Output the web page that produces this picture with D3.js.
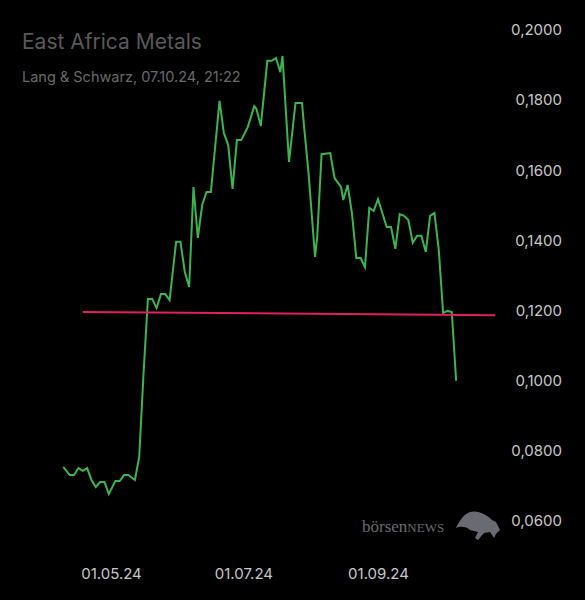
<!DOCTYPE html>
<html><head><meta charset="utf-8">
<script src="https://cdn.jsdelivr.net/npm/d3@7"></script>
<style>body{margin:0;background:#000}</style></head>
<body><svg id="chart" width="585" height="600"></svg>
<script>
// days offset from 01.05.24
const dayOffsets = [-22,-19,-17,-15,-13,-11,-9,-7,-5,-3,-1,2,4,6,8,11,13,15,17,19,21,23,25,27,30,32,34,36,38,40,42,44,46,50,52,54,56,58,60,63,66,67,69,72,74,76,78,79,82,85,88,89,91,94,95,97,101,103,106,107,109,111,113,115,117,119,121,123,125,127,129,131,133,135,137,139,141,143,145,147,149,151,153,155,157,159];
const prices = [0.0754,0.0731,0.0731,0.0751,0.0743,0.0751,0.0717,0.0697,0.0711,0.0711,0.0677,0.0714,0.0714,0.0731,0.0731,0.0717,0.0783,0.1022,0.1233,0.1233,0.1207,0.1247,0.1247,0.1230,0.1396,0.1396,0.1310,0.1267,0.1552,0.1407,0.1501,0.1538,0.1538,0.1798,0.1706,0.1672,0.1547,0.1686,0.1686,0.1723,0.1783,0.1775,0.1726,0.1912,0.1912,0.1920,0.1880,0.1926,0.1624,0.1792,0.1792,0.1721,0.1592,0.1353,0.1410,0.1646,0.1649,0.1578,0.1552,0.1515,0.1558,0.1478,0.1350,0.1350,0.1324,0.1493,0.1484,0.1518,0.1478,0.1438,0.1438,0.1376,0.1475,0.1470,0.1458,0.1393,0.1413,0.1413,0.1367,0.1470,0.1478,0.1373,0.1193,0.1199,0.1196,0.1000];
const refLine = [{d:-13, v:0.1196}, {d:177, v:0.1187}];
const yTicks = [0.06,0.08,0.10,0.12,0.14,0.16,0.18,0.20];
const xTicks = [new Date(2024,4,1), new Date(2024,6,1), new Date(2024,8,1)];

const base = new Date(2024,4,1);
const toDate = d => new Date(base.getTime() + d*864e5);
const svg = d3.select('#chart');
svg.append('rect').attr('width',585).attr('height',600).attr('fill','#000');

const x = d3.scaleTime().domain([base, new Date(2024,8,1)]).range([111,378]);
const y = d3.scaleLinear().domain([0.06,0.2]).range([521,30]);
const fmt = v => v.toFixed(4).replace('.', ',');

svg.append('g').attr('transform','translate(562,0)')
  .call(d3.axisLeft(y).tickValues(yTicks).tickFormat(fmt).tickSize(0))
  .call(g => g.select('.domain').remove())
  .call(g => g.selectAll('text').attr('x',0).attr('dy','0.32em').attr('fill','#c8c8c8')
    .attr('font-family','Inter, sans-serif').attr('font-size',15));

svg.append('g').attr('transform','translate(0,571)')
  .call(d3.axisBottom(x).tickValues(xTicks).tickFormat(d3.timeFormat('%d.%m.%y')).tickSize(0))
  .call(g => g.select('.domain').remove())
  .call(g => g.selectAll('text').attr('dy','0.32em').attr('fill','#c8c8c8')
    .attr('font-family','Inter, sans-serif').attr('font-size',15));

svg.append('text').attr('x',22).attr('y',49).text('East Africa Metals')
  .attr('fill','#5a5a5a').attr('font-family','Inter, sans-serif').attr('font-size',21);
svg.append('text').attr('x',22).attr('y',82).text('Lang & Schwarz, 07.10.24, 21:22')
  .attr('fill','#6a6a6a').attr('font-family','Inter, sans-serif').attr('font-size',14.5);

const data = dayOffsets.map((d,i) => ({date: toDate(d), v: prices[i]}));
svg.append('path').datum(data)
  .attr('fill','none').attr('stroke','#3cb44f').attr('stroke-width',2)
  .attr('d', d3.line().x(d => x(d.date)).y(d => y(d.v)));

svg.append('path').datum(refLine)
  .attr('fill','none').attr('stroke','#e0205f').attr('stroke-width',2)
  .attr('d', d3.line().x(d => x(toDate(d.d))).y(d => y(d.v)));

// logo
const logo = svg.append('g').attr('transform','translate(362,532)').attr('fill','#6a6a72');
logo.append('text').attr('x',0).attr('y',0).attr('font-family','Liberation Serif, serif').attr('font-size',17)
  .text('börsen').append('tspan').attr('font-size',13).text('NEWS');
logo.append('path').attr('d','M94,-4 C98,-12 102,-18 108,-20 C116,-22 124,-18 130,-12 L134,-10 L138,-2 L134,2 L132,6 L128,0 L122,1 L116,8 L113,6 L116,0 L108,-2 C104,-6 98,-6 94,-4 Z');
</script></body></html>
